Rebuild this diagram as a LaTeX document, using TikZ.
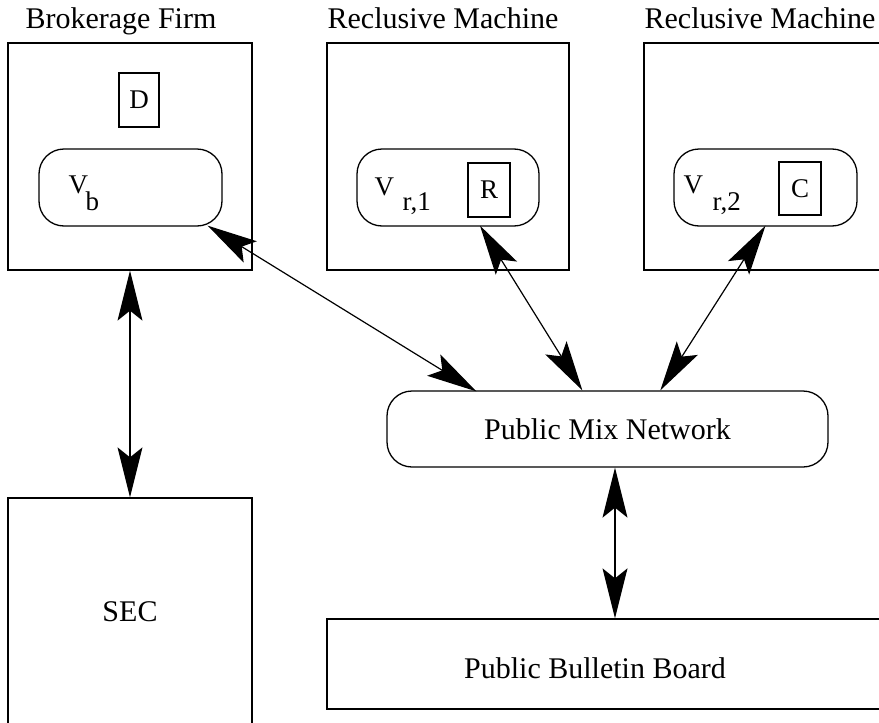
\documentclass[tikz,border=0pt]{standalone}
\usepackage{fontspec}
\setmainfont{Liberation Serif}
\usetikzlibrary{arrows.meta,calc}
\begin{document}
\begin{tikzpicture}[x=1pt,y=-1pt,
  line width=1.3pt,
  box/.style={draw, rectangle, inner sep=0pt, line width=1.3pt},
  pill/.style={draw, rectangle, rounded corners=25pt, inner sep=0pt, line width=1.3pt},
  big/.style={font=\fontsize{30}{36}\selectfont, inner sep=0pt},
  small/.style={font=\fontsize{27}{32}\selectfont, inner sep=0pt},
  tipstyle/.style={},
  link/.style={{Stealth[length=50pt,width=25pt,inset=10pt]}-{Stealth[length=50pt,width=25pt,inset=10pt]}, line width=1.2pt}
]
\useasboundingbox (0,0) rectangle (879,723);

% Brokerage firm
\node[box, minimum width=244pt, minimum height=227pt] (bf) at (130,156.5) {};
\node[big, anchor=base] (bft) at (121,28) {Brokerage Firm};
\node[box, small, minimum width=40pt, minimum height=54pt] (D) at (139,100) {D};
\node[pill, minimum width=183pt, minimum height=77pt] (vb) at (130.5,187.5) {};
\node[small, anchor=base west] (vbV) at (68,193) {V};
\node[small, anchor=base west] (vbs) at (85,210) {b};

% Reclusive machine 1
\node[box, minimum width=242pt, minimum height=227pt] (rm1) at (448,156.5) {};
\node[big, anchor=base] (rm1t) at (443,28) {Reclusive Machine};
\node[pill, minimum width=182pt, minimum height=77pt] (vr1) at (448,187.5) {};
\node[small, anchor=base west] (vr1V) at (374,195) {V};
\node[small, anchor=base west] (vr1s) at (402,210) {r,1};
\node[box, small, minimum width=42pt, minimum height=54pt] (R) at (489,190) {R};

% Reclusive machine 2
\node[box, minimum width=243pt, minimum height=227pt] (rm2) at (765.5,156.5) {};
\node[big, anchor=base] (rm2t) at (760,28) {Reclusive Machine};
\node[pill, minimum width=183pt, minimum height=77pt] (vr2) at (765.5,187.5) {};
\node[small, anchor=base west] (vr2V) at (683,193) {V};
\node[small, anchor=base west] (vr2s) at (712,210) {r,2};
\node[box, small, minimum width=42pt, minimum height=53pt] (C) at (800,188.5) {C};

% SEC
\node[box, big, minimum width=244pt, minimum height=227pt] (sec) at (130,611.5) {SEC};

% Public Mix Network
\node[pill, big, minimum width=441pt, minimum height=76pt] (pmn) at (607.5,429) {Public Mix Network};

% Public Bulletin Board
\node[box, minimum width=562pt, minimum height=90pt] (pbb) at (608,664) {};
\node[big, anchor=base] (pbbt) at (595,678) {Public Bulletin Board};

% Connectors
\draw[link] ($(vb.south east)+(-15,-1)$) -- ($(pmn.north west)+(90,1)$);
\draw[link] ($(vr1.south)+(32,-1)$) -- ($(pmn.north west)+(196,0)$);
\draw[link] ($(vr2.south)+(0,-1)$) -- ($(pmn.north west)+(274,0)$);
\draw[link] (bf.south) -- (sec.north);
\coordinate (pmx) at ($(pmn.south)+(7.5,0)$);
\draw[link] (pmx) -- (pmx |- pbb.north);
\end{tikzpicture}
\end{document}
